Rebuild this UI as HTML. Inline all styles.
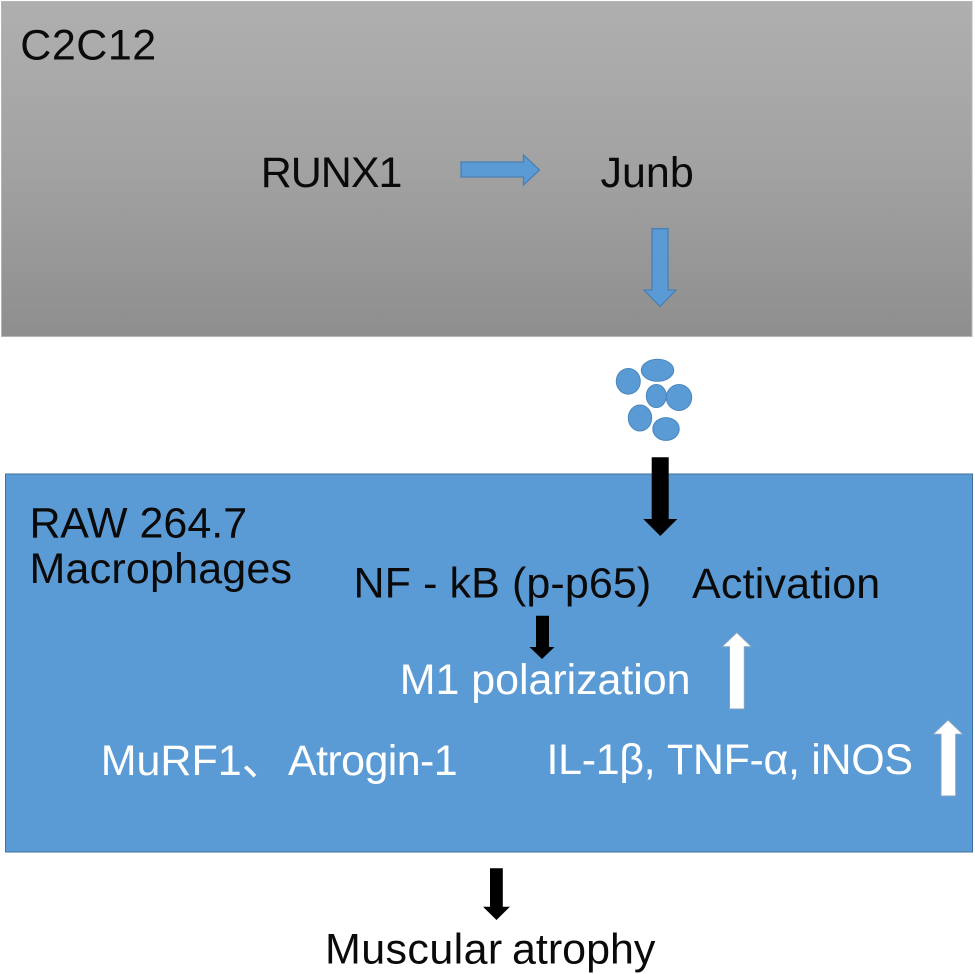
<!DOCTYPE html>
<html>
<head>
<meta charset="utf-8">
<style>
html,body{margin:0;padding:0;background:#fff;}
svg{display:block;}
text{font-family:"Liberation Sans","Noto Sans CJK SC",sans-serif;font-size:43px;}
</style>
</head>
<body>
<svg width="975" height="974" viewBox="0 0 975 974" xmlns="http://www.w3.org/2000/svg">
<defs>
<linearGradient id="g" x1="0" y1="0" x2="0" y2="1">
<stop offset="0" stop-color="#afafaf"/>
<stop offset="0.5" stop-color="#a2a2a2"/>
<stop offset="1" stop-color="#8e8e8e"/>
</linearGradient>
</defs>
<rect x="1.5" y="1.5" width="970.5" height="335" fill="url(#g)" stroke="#b5b5b5"/>
<text x="20.3" y="59.5" fill="#0a0a0a" letter-spacing="0.5">C2C12</text>
<text x="260.7" y="187" fill="#0a0a0a" letter-spacing="-1">RUNX1</text>
<text x="600.5" y="187" fill="#0a0a0a">Junb</text>
<polygon points="461,162 523.5,162 523.5,155 539.5,170 523.5,185 523.5,177 461,177" fill="#5b9bd5" stroke="#4a80b2" stroke-width="1.3"/>
<polygon points="652,228.7 668,228.7 668,290 676,290 660,306.5 644,290 652,290" fill="#5b9bd5" stroke="#4a80b2" stroke-width="1.3"/>
<g fill="#5b9bd5" stroke="#4a86bd" stroke-width="1">
<ellipse cx="628.3" cy="381.3" rx="12" ry="12.8"/>
<ellipse cx="657.5" cy="370.3" rx="16.2" ry="11"/>
<ellipse cx="656.3" cy="396" rx="10" ry="11.5"/>
<ellipse cx="679" cy="397.5" rx="12.7" ry="13"/>
<ellipse cx="640" cy="418" rx="11.7" ry="13"/>
<ellipse cx="666" cy="429" rx="13.2" ry="11.4"/>
</g>
<rect x="5.5" y="474" width="967" height="378" fill="#5b9bd5" stroke="#41719c" stroke-width="1"/>
<text x="29.5" y="537.5" fill="#0a0a0a" letter-spacing="-0.3">RAW</text>
<text x="139.5" y="537.5" fill="#0a0a0a">264.7</text>
<text x="29.5" y="583" fill="#0a0a0a" letter-spacing="0.2">Macrophages</text>
<text x="353.5" y="597.7" fill="#0a0a0a" letter-spacing="0.1">NF - kB (p-p65)</text>
<text x="692" y="598" fill="#0a0a0a" letter-spacing="0.2">Activation</text>
<text x="399.7" y="694" fill="#fff" letter-spacing="-0.05">M1 polarization</text>
<text x="100.7" y="775" fill="#fff">MuRF1、<tspan x="288" letter-spacing="-0.6">Atrogin-1</tspan></text>
<text x="546.5" y="774" fill="#fff" letter-spacing="-0.33">IL-1β, TNF-α, iNOS</text>
<polygon points="651.7,457.3 668.7,457.3 668.7,519 677.3,519 660.3,536 643.3,519 651.7,519" fill="#000"/>
<polygon points="536,615.7 549,615.7 549,647 554.5,647 542,659 529.5,647 536,647" fill="#000"/>
<polygon points="729.5,709 729.5,646.7 722,646.7 736.8,632.5 751.5,646.7 744.3,646.7 744.3,709" fill="#fff" stroke="#7fa3c4" stroke-width="1"/>
<polygon points="941,796 941,734.3 933,734.3 948,720 963,734.3 955.7,734.3 955.7,796" fill="#fff" stroke="#7fa3c4" stroke-width="1"/>
<polygon points="490,868.3 502.8,868.3 502.8,906.7 510,906.7 496.5,920 483,906.7 490,906.7" fill="#000"/>
<text x="325" y="963.5" fill="#0a0a0a" letter-spacing="0.4">Muscular</text>
<text x="512" y="963.5" fill="#0a0a0a">atrophy</text>
</svg>
</body>
</html>
